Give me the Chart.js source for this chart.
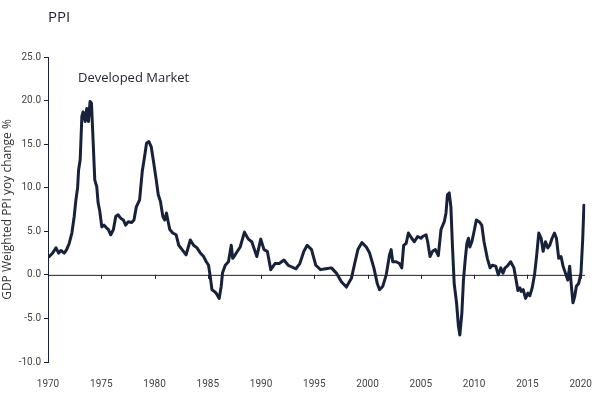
<!DOCTYPE html>
<html>
<head>
<meta charset="utf-8">
<script src="https://cdn.jsdelivr.net/npm/chart.js@4.4.1/dist/chart.umd.min.js"></script>
<style>
html,body{margin:0;padding:0;background:#fff;}
#wrap{width:600px;height:393px;position:relative;}
</style>
</head>
<body>
<div id="wrap"><canvas id="c" width="600" height="393"></canvas></div>
<script>
const chartTitle = "PPI";
const seriesLabel = "Developed Market";
const yAxisTitle = "GDP Weighted PPI yoy change %";
const yTicks = [-10, -5, 0, 5, 10, 15, 20, 25];
const xTicks = [1970, 1975, 1980, 1985, 1990, 1995, 2000, 2005, 2010, 2015, 2020];

const years = [
1970.12,1970.44,1970.75,1971.00,1971.21,1971.52,1971.75,1971.99,1972.24,1972.46,
1972.62,1972.78,1972.87,1973.02,1973.18,1973.30,1973.49,1973.64,1973.80,1973.95,
1974.08,1974.23,1974.39,1974.58,1974.70,1974.86,1975.05,1975.26,1975.49,1975.67,
1975.89,1976.14,1976.36,1976.57,1976.82,1977.07,1977.29,1977.54,1977.85,1978.07,
1978.29,1978.60,1978.85,1979.07,1979.25,1979.47,1979.69,1979.93,1980.16,1980.35,
1980.56,1980.78,1980.96,1981.12,1981.28,1981.43,1981.71,1982.03,1982.27,1982.59,
1982.96,1983.36,1983.67,1983.99,1984.30,1984.61,1984.86,1985.07,1985.23,1985.39,
1985.61,1985.79,1986.07,1986.26,1986.38,1986.64,1986.94,1987.20,1987.34,1987.57,
1988.04,1988.44,1988.81,1989.13,1989.60,1989.97,1990.28,1990.59,1990.91,1991.31,
1991.71,1992.15,1992.55,1992.90,1993.27,1993.64,1994.02,1994.33,1994.74,1995.14,
1995.58,1996.07,1996.61,1997.07,1997.54,1998.01,1998.48,1998.79,1999.09,1999.47,
1999.88,2000.19,2000.59,2000.91,2001.12,2001.43,2001.75,2002.06,2002.21,2002.36,
2002.68,2002.99,2003.21,2003.39,2003.62,2003.83,2004.14,2004.39,2004.70,2005.02,
2005.17,2005.49,2005.64,2005.86,2006.10,2006.36,2006.64,2006.89,2007.20,2007.36,
2007.50,2007.66,2007.82,2007.97,2008.13,2008.35,2008.53,2008.66,2008.85,2009.00,
2009.16,2009.32,2009.47,2009.60,2009.79,2010.00,2010.21,2010.47,2010.72,2010.93,
2011.24,2011.50,2011.71,2012.03,2012.27,2012.50,2012.71,2012.90,2013.11,2013.43,
2013.74,2013.97,2014.11,2014.30,2014.42,2014.61,2014.83,2015.05,2015.23,2015.45,
2015.67,2015.86,2016.07,2016.29,2016.48,2016.70,2016.92,2017.10,2017.32,2017.54,
2017.73,2017.94,2018.16,2018.35,2018.57,2018.79,2018.97,2019.13,2019.28,2019.44,
2019.60,2019.81,2020.03,2020.19,2020.31
];
const ppi = [
2.1,2.5,3.1,2.5,2.8,2.5,2.9,3.6,4.8,6.7,
8.6,10.0,12.0,13.2,18.2,18.7,17.6,19.1,17.6,19.9,
19.7,15.5,10.9,10.1,8.3,7.3,5.5,5.7,5.4,5.2,
4.6,5.2,6.7,6.9,6.5,6.3,5.7,6.1,6.0,6.3,
7.8,8.6,11.9,13.6,15.1,15.3,14.7,12.8,10.9,9.2,
8.4,6.7,6.3,7.1,6.1,5.2,4.8,4.6,3.4,2.9,
2.3,4.0,3.4,3.1,2.5,2.1,1.5,1.1,-0.2,-1.7,
-1.9,-2.1,-2.7,-1.3,0.2,1.1,1.5,3.4,1.9,2.3,
3.2,4.9,4.1,3.8,2.1,4.1,2.9,2.7,0.6,1.3,
1.3,1.7,1.1,0.9,0.7,1.3,2.7,3.4,2.9,1.1,
0.6,0.7,0.8,0.2,-0.8,-1.4,-0.4,1.3,2.9,3.7,
3.2,2.5,0.8,-1.0,-1.7,-1.3,0.0,2.3,2.9,1.5,
1.5,1.3,0.8,3.4,3.6,4.8,4.2,3.8,4.4,4.2,
4.4,4.6,3.8,2.1,2.7,2.9,2.2,5.2,6.1,7.1,
9.2,9.4,7.8,3.2,-1.0,-3.2,-5.9,-6.9,-4.4,-0.6,
1.7,3.6,4.2,3.2,3.8,5.0,6.3,6.1,5.7,3.8,
1.9,0.8,1.1,1.0,0.0,0.8,0.2,0.8,1.0,1.5,
0.8,-0.8,-1.8,-1.5,-1.9,-1.7,-2.7,-2.1,-2.4,-1.5,
0.0,2.1,4.8,4.2,2.7,3.8,3.1,3.4,4.2,4.8,
4.2,1.9,2.1,1.0,0.2,-0.6,1.0,-1.3,-3.2,-2.5,
-1.3,-1.0,0.2,4.0,8.0
];

const points = years.map((y, i) => ({x: y, y: ppi[i]}));
const navy = '#17213a';

const deco = {
  id: 'deco',
  beforeDatasetsDraw(chart) {
    const ctx = chart.ctx, xs = chart.scales.x, ys = chart.scales.y;
    const y0 = ys.getPixelForValue(0);
    const xl = chart.chartArea.left;
    const xr = xs.getPixelForValue(years[years.length - 1]) + 1;
    ctx.save();
    ctx.strokeStyle = navy;
    ctx.lineWidth = 1;
    ctx.beginPath();
    ctx.moveTo(xl, y0 + 0.5);
    ctx.lineTo(xr, y0 + 0.5);
    xTicks.forEach(t => {
      if (t === xTicks[0]) return;
      const px = Math.round(xs.getPixelForValue(t)) + 0.5;
      ctx.moveTo(px, y0);
      ctx.lineTo(px, y0 + 4);
    });
    ctx.stroke();
    ctx.restore();
  },
  afterDraw(chart) {
    const ctx = chart.ctx;
    ctx.save();
    ctx.fillStyle = '#1b1f2e';
    ctx.textBaseline = 'middle';
    ctx.font = '500 15px "Open Sans", sans-serif';
    ctx.fillText(chartTitle, 48, 18);
    ctx.fillStyle = '#222733';
    ctx.font = '13px "Open Sans", sans-serif';
    ctx.fillText(seriesLabel, 78, 78);
    ctx.restore();
  }
};

new Chart(document.getElementById('c'), {
  type: 'line',
  data: {
    datasets: [{
      data: points,
      borderColor: navy,
      borderWidth: 3,
      pointRadius: 0,
      tension: 0,
      fill: false,
      borderJoinStyle: 'round',
      borderCapStyle: 'round'
    }]
  },
  options: {
    responsive: false,
    animation: false,
    devicePixelRatio: 1,
    layout: {padding: {left: 0, right: 13, top: 57, bottom: 0}},
    plugins: {legend: {display: false}, tooltip: {enabled: false}, title: {display: false}},
    scales: {
      x: {
        type: 'linear',
        min: 1970,
        max: 2020.45,
        afterBuildTicks(scale) { scale.ticks = xTicks.map(v => ({value: v})); },
        afterFit(scale) { scale.height = 31; },
        grid: {display: false},
        border: {display: false},
        ticks: {
          callback: v => String(v),
          color: '#444',
          font: {family: 'Roboto', size: 10},
          padding: 8,
          maxRotation: 0,
          autoSkip: false
        }
      },
      y: {
        min: -10,
        max: 25,
        afterBuildTicks(scale) { scale.ticks = yTicks.map(v => ({value: v})); },
        afterFit(scale) { scale.width = 48; },
        grid: {display: true, drawOnChartArea: false, drawTicks: true, tickLength: 4, color: navy},
        border: {display: true, color: navy, width: 1},
        title: {display: true, text: yAxisTitle, color: '#333', font: {family: 'Open Sans', size: 12}, padding: {top: 0, bottom: 2}},
        ticks: {
          callback: v => v.toFixed(1),
          color: '#444',
          font: {family: 'Roboto', size: 10},
          padding: 3
        }
      }
    }
  },
  plugins: [deco]
});
</script>
</body>
</html>
